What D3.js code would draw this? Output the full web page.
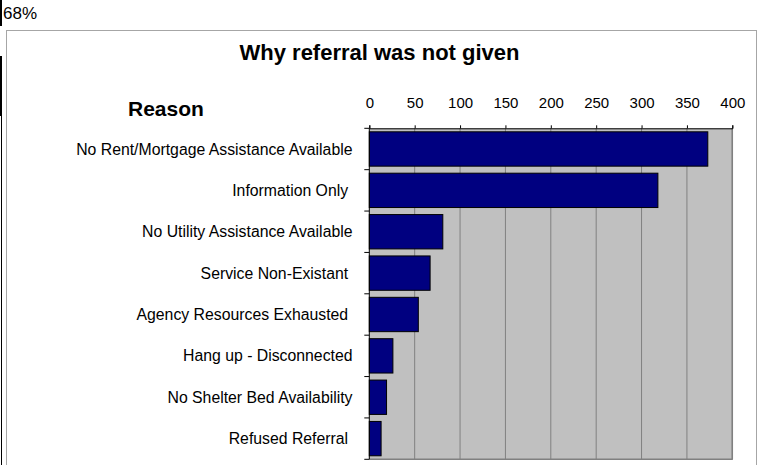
<!DOCTYPE html>
<html>
<head>
<meta charset="utf-8">
<script src="https://cdn.jsdelivr.net/npm/d3@7"></script>
<style>
  html, body { margin: 0; padding: 0; background: #fff; }
  svg { display: block; font-family: Arial, "Liberation Sans", sans-serif; }
</style>
</head>
<body>
<svg id="chart" width="760" height="465"></svg>
<script>
const categories = [
  "No Rent/Mortgage Assistance Available",
  "Information Only ",
  "No Utility Assistance Available",
  "Service Non-Existant ",
  "Agency Resources Exhausted ",
  "Hang up - Disconnected",
  "No Shelter Bed Availability",
  "Refused Referral "
];
const values = [373, 318, 81, 67, 54, 26, 19, 13];
const tickValues = [0, 50, 100, 150, 200, 250, 300, 350, 400];
const titleText = "Why referral was not given";
const axisTitle = "Reason";
const cornerText = "68%";

const svg = d3.select("#chart");

// spreadsheet crop artefacts on the left edge
svg.append("rect").attr("x", 0).attr("y", 0).attr("width", 2).attr("height", 26).attr("fill", "#000");
svg.append("rect").attr("x", 0).attr("y", 56).attr("width", 2).attr("height", 60).attr("fill", "#000");
svg.append("line").attr("x1", 1.5).attr("x2", 1.5).attr("y1", 116).attr("y2", 465)
  .attr("stroke", "#000").attr("stroke-width", 1);

svg.append("text").attr("x", 3).attr("y", 19).attr("font-size", 17).attr("fill", "#000").text(cornerText);

// chart border
svg.append("rect").attr("x", 6.5).attr("y", 30.5).attr("width", 750).attr("height", 460)
  .attr("fill", "#fff").attr("stroke", "#a6a6a6").attr("stroke-width", 1);

const pLeft = 369.3, pRight = 732.3, pTop = 128.3, pBottom = 459.3;

const x = d3.scaleLinear().domain([0, 400]).range([pLeft, pRight]);
const y = d3.scaleBand().domain(categories).range([pTop, pBottom]).paddingInner(0.17).paddingOuter(0.085);
const yb = d3.scaleBand().domain(categories).range([pTop, pBottom]);

// plot area
svg.append("rect").attr("x", pLeft).attr("y", pTop).attr("width", pRight - pLeft).attr("height", pBottom - pTop)
  .attr("fill", "#c0c0c0");

// gridlines
svg.append("g").selectAll("line").data(tickValues.slice(1)).join("line")
  .attr("x1", d => x(d)).attr("x2", d => x(d)).attr("y1", pTop).attr("y2", pBottom)
  .attr("stroke", "#808080").attr("stroke-width", 1);
svg.append("line").attr("x1", pLeft).attr("x2", pRight + 0.5).attr("y1", pBottom).attr("y2", pBottom)
  .attr("stroke", "#808080").attr("stroke-width", 1.5);
svg.append("line").attr("x1", pRight).attr("x2", pRight).attr("y1", pTop).attr("y2", pBottom)
  .attr("stroke", "#808080").attr("stroke-width", 1.5);

// bars
svg.append("g").selectAll("rect").data(values).join("rect")
  .attr("x", x(0))
  .attr("y", (d, i) => y(categories[i]))
  .attr("width", d => x(d) - x(0))
  .attr("height", y.bandwidth())
  .attr("fill", "#000080")
  .attr("stroke", "#000").attr("stroke-width", 1);

// top axis
const xAxis = d3.axisTop(x).tickValues(tickValues).tickSize(3).tickPadding(17).tickFormat(d3.format("d"));
const gx = svg.append("g").attr("transform", `translate(0,${pTop})`).call(xAxis);
gx.select(".domain").attr("stroke", "#000");
gx.selectAll(".tick line").attr("stroke", "#000");
gx.selectAll(".tick text").attr("font-size", 15).attr("font-family", "Arial, 'Liberation Sans', sans-serif").attr("fill", "#000");

// left axis (ticks at band boundaries)
svg.append("line").attr("x1", pLeft).attr("x2", pLeft).attr("y1", pTop).attr("y2", pBottom)
  .attr("stroke", "#000").attr("stroke-width", 1);
const boundaries = categories.map(c => yb(c)).concat([pBottom]);
svg.append("g").selectAll("line").data(boundaries).join("line")
  .attr("x1", pLeft - 5).attr("x2", pLeft).attr("y1", d => d).attr("y2", d => d)
  .attr("stroke", "#000").attr("stroke-width", 1);

// category labels
svg.append("g").selectAll("text").data(categories).join("text")
  .attr("x", 352.5)
  .attr("y", d => yb(d) + yb.bandwidth() / 2)
  .attr("dy", "0.35em")
  .attr("text-anchor", "end")
  .attr("font-size", 15.8)
  .style("white-space", "pre")
  .attr("fill", "#000")
  .text(d => d);

// titles
svg.append("text").attr("x", 379.5).attr("y", 60).attr("text-anchor", "middle")
  .attr("font-size", 22).attr("font-weight", "bold").attr("fill", "#000").text(titleText);
svg.append("text").attr("x", 128).attr("y", 116)
  .attr("font-size", 21).attr("font-weight", "bold").attr("fill", "#000").text(axisTitle);
</script>
</body>
</html>
